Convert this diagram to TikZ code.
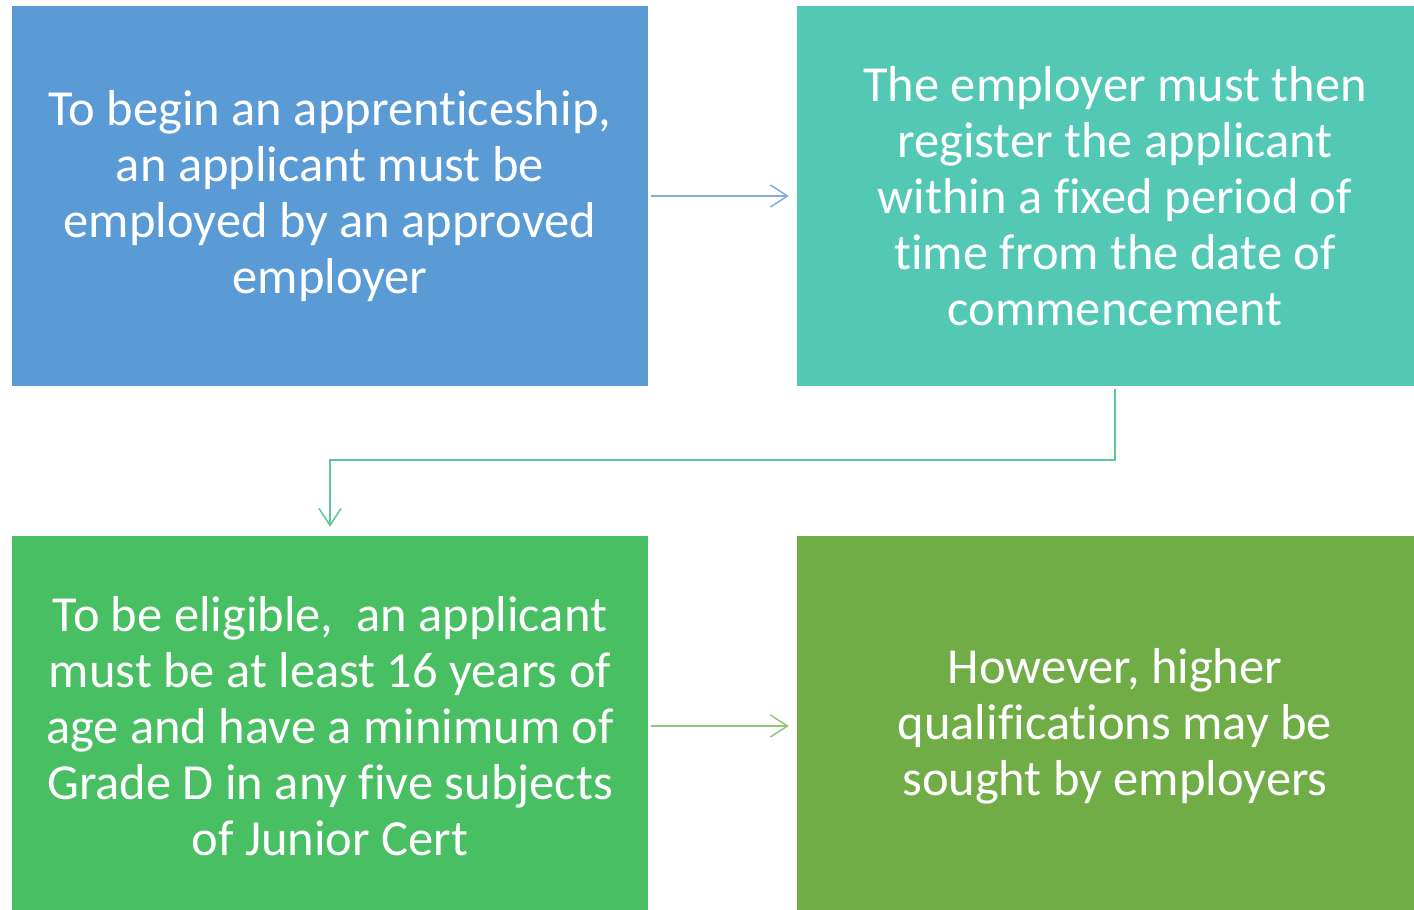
\documentclass[tikz,border=0pt]{standalone}
\usepackage{fontspec}
\setmainfont[Ligatures=NoCommon]{Carlito}
\usetikzlibrary{arrows.meta}
\definecolor{cA}{HTML}{5B9BD5}
\definecolor{cB}{HTML}{53C9B5}
\definecolor{cC}{HTML}{48BF63}
\definecolor{cD}{HTML}{70AD47}
\definecolor{aA}{HTML}{7EAEE0}
\definecolor{aB}{HTML}{5CC89A}
\definecolor{aD}{HTML}{94C47A}
\tikzset{
  box/.style={minimum width=636pt, minimum height=380pt, inner sep=0pt, text=white,
    align=center, font=\fontsize{50.5}{56}\selectfont},
  conn/.style={line width=1.5pt, -{Straight Barb[length=17pt,width=22pt,line width=1.5pt]}}
}
\begin{document}
\begin{tikzpicture}[x=1pt,y=1pt]
\useasboundingbox (0,0) rectangle (1414,910);
\begin{scope}
\clip (0,0) rectangle (1414,910);
\node[box, fill=cA] (b1) at (330,714) {To begin an apprenticeship,\\an applicant must be\\employed by an approved\\employer};
\node[box, fill=cB] (b2) at (1115,714) {The employer must then\\register the applicant\\within a fixed period of\\time from the date of\\commencement};
\node[box, fill=cC] (b3) at (330,184) {To be eligible,\ \ an applicant\\must be at least 16 years of\\age and have a minimum of\\Grade D in any five subjects\\of Junior Cert};
\node[box, fill=cD] (b4) at (1115,184) {However, higher\\qualifications may be\\sought by employers};
\end{scope}
\coordinate (k1) at (1115,450);
\coordinate (k2) at (330,450);
\draw[conn, draw=aA] ([xshift=3pt]b1.east) -- ([xshift=-8pt]b2.west);
\draw[conn, draw=aB] ([yshift=-3pt]b2.south) -- (k1) -- (k2) -- ([yshift=9pt]b3.north);
\draw[conn, draw=aD] ([xshift=3pt]b3.east) -- ([xshift=-8pt]b4.west);
\end{tikzpicture}
\end{document}
